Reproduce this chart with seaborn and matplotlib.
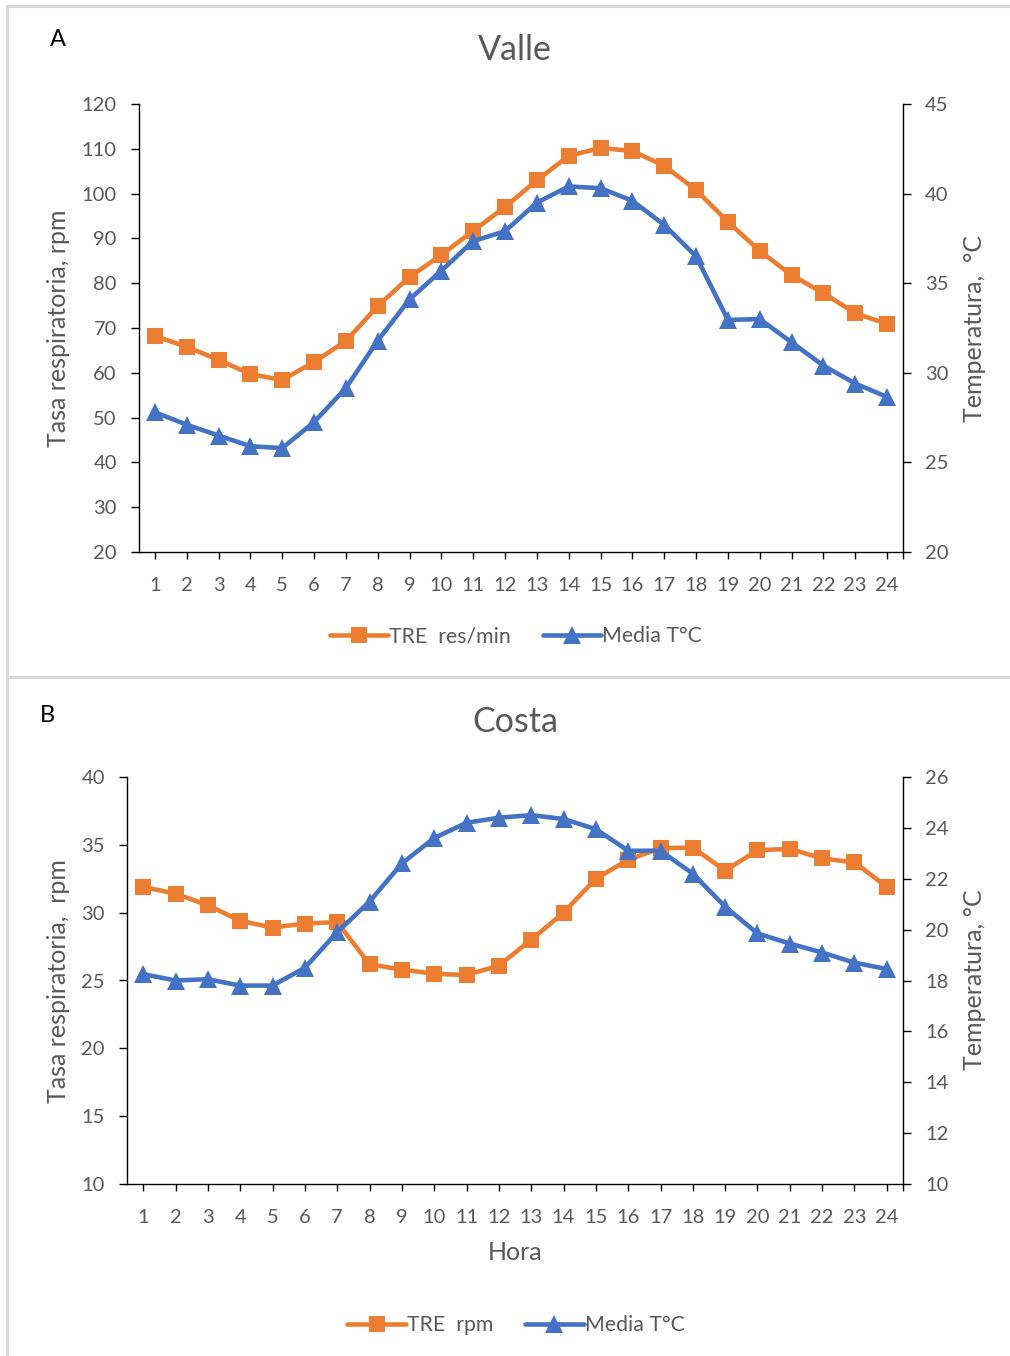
import numpy as np
import pandas as pd
import matplotlib
matplotlib.use("Agg")
import matplotlib.pyplot as plt
from matplotlib.patches import Rectangle
from matplotlib.lines import Line2D
import seaborn as sns

sns.set_theme(style="white")
plt.rcParams["font.family"] = ["Lato", "DejaVu Sans"]

# Hours of the day
hora = list(range(1, 25))

# Valle: respiratory rate (res/min) and mean temperature (°C)
tre_valle = [68.2, 65.8, 62.9, 59.7, 58.4, 62.4, 67.1, 74.9, 81.4, 86.3, 91.7, 97.0,
             103.0, 108.4, 110.2, 109.5, 106.2, 100.8, 93.7, 87.2, 81.8, 77.8, 73.3, 70.9]
temp_valle = [27.8, 27.1, 26.5, 25.9, 25.8, 27.25, 29.15, 31.8, 34.1, 35.7, 37.35, 37.9,
              39.5, 40.4, 40.3, 39.6, 38.25, 36.5, 32.95, 33.0, 31.7, 30.4, 29.4, 28.65]

# Costa: respiratory rate (rpm) and mean temperature (°C)
tre_costa = [31.9, 31.4, 30.55, 29.4, 28.9, 29.2, 29.3, 26.2, 25.8, 25.5, 25.4, 26.1,
             28.0, 30.0, 32.5, 33.9, 34.75, 34.8, 33.1, 34.6, 34.7, 34.0, 33.7, 31.9]
temp_costa = [18.25, 18.0, 18.05, 17.8, 17.8, 18.5, 19.9, 21.1, 22.6, 23.6, 24.2, 24.4,
              24.5, 24.35, 23.95, 23.1, 23.1, 22.2, 20.9, 19.85, 19.45, 19.1, 18.7, 18.45]

ORANGE = "#ED7D31"
BLUE = "#4472C4"
GRAY = "#595959"

W, H = 1010, 1356
fig = plt.figure(figsize=(W / 100, H / 100), dpi=100)


def px_axes(left, top, right, bottom):
    return fig.add_axes([left / W, 1 - bottom / H, (right - left) / W, (bottom - top) / H])


def fx(x):
    return x / W


def fy(y):
    return 1 - y / H


# chart-area frames
for (x0, y0, x1, y1) in [(7, 6, 1012, 677), (7, 677, 1012, 1360)]:
    fig.patches.append(Rectangle((fx(x0), fy(y1)), fx(x1) - fx(x0), fy(y0) - fy(y1),
                                 transform=fig.transFigure, fill=False,
                                 edgecolor="#d9d9d9", linewidth=2.2, zorder=0))


def style_axes(ax, ax2, ylim_l, yticks_l, ylim_r, yticks_r):
    ax.set_xlim(0.5, 24.5)
    ax.set_xticks(hora)
    ax.set_xticklabels([str(h) for h in hora])
    ax.set_xticks([24.5], minor=True)
    ax.set_ylim(*ylim_l)
    ax.set_yticks(yticks_l)
    ax2.set_ylim(*ylim_r)
    ax2.set_yticks(yticks_r)
    for a in (ax, ax2):
        a.set_xlabel("")
        a.set_ylabel("")
        for s in a.spines.values():
            s.set_visible(False)
        a.grid(False)
        a.set_facecolor("none")
    ax.spines["left"].set_visible(True)
    ax.spines["bottom"].set_visible(True)
    ax2.spines["right"].set_visible(True)
    for s in (ax.spines["left"], ax.spines["bottom"], ax2.spines["right"]):
        s.set_color("black")
        s.set_linewidth(1.0)
    ax.tick_params(axis="x", which="both", direction="out", length=5, width=1,
                   color="black", labelsize=14.5, labelcolor=GRAY, pad=13, bottom=True)
    ax.tick_params(axis="y", direction="out", length=6, width=1, color="black",
                   labelsize=14.5, labelcolor=GRAY, pad=10, left=True)
    ax2.tick_params(axis="y", direction="out", length=6, width=1, color="black",
                    labelsize=14.5, labelcolor=GRAY, pad=10, right=True)


def draw(ax, ax2, tre, temp):
    df = pd.DataFrame({"hora": hora, "tre": tre, "temp": temp})
    sns.lineplot(data=df, x="hora", y="tre", ax=ax, color=ORANGE, linewidth=3.3,
                 marker="s", markersize=11.5, markeredgewidth=0, zorder=3)
    sns.lineplot(data=df, x="hora", y="temp", ax=ax2, color=BLUE, linewidth=3.3,
                 marker="^", markersize=12.5, markeredgewidth=0, zorder=3)


LABEL_FS = 18

# ---------------- Panel A: Valle ----------------
axA = px_axes(139, 104, 903, 552)
axA2 = axA.twinx()
draw(axA, axA2, tre_valle, temp_valle)
style_axes(axA, axA2, (20, 120), range(20, 121, 10), (20, 45), range(20, 46, 5))

fig.text(fx(515), fy(50), "Valle", ha="center", va="center", fontsize=24.5, color=GRAY)
fig.text(fx(58), fy(40), "A", ha="center", va="center", fontsize=17, color="black")
fig.text(fx(58), fy(328), "Tasa respiratoria, rpm", rotation=90, ha="center",
         va="center", fontsize=LABEL_FS, color=GRAY)
fig.text(fx(975), fy(329), "Temperatura,  °C", rotation=90, ha="center",
         va="center", fontsize=LABEL_FS, color=GRAY)

# ---------------- Panel B: Costa ----------------
axB = px_axes(127, 777, 903, 1184)
axB2 = axB.twinx()
draw(axB, axB2, tre_costa, temp_costa)
style_axes(axB, axB2, (10, 40), range(10, 41, 5), (10, 26), range(10, 27, 2))

fig.text(fx(515), fy(722), "Costa", ha="center", va="center", fontsize=24.5, color=GRAY)
fig.text(fx(47), fy(716), "B", ha="center", va="center", fontsize=17, color="black")
fig.text(fx(58), fy(981), "Tasa respiratoria,  rpm", rotation=90, ha="center",
         va="center", fontsize=LABEL_FS, color=GRAY)
fig.text(fx(975), fy(980), "Temperatura, °C", rotation=90, ha="center",
         va="center", fontsize=LABEL_FS, color=GRAY)
fig.text(fx(515), fy(1253), "Hora", ha="center", va="center", fontsize=LABEL_FS, color=GRAY)


# ---------------- Legends ----------------
def legend_handles():
    return [Line2D([], [], color=ORANGE, linewidth=3.3, marker="s", markersize=11.5,
                   markeredgewidth=0, solid_capstyle="round"),
            Line2D([], [], color=BLUE, linewidth=3.3, marker="^", markersize=12.5,
                   markeredgewidth=0, solid_capstyle="round")]


for labels, yc in [(["TRE  res/min", "Media T°C"], 636), (["TRE  rpm", "Media T°C"], 1325)]:
    leg = fig.legend(legend_handles(), labels, loc="center", bbox_to_anchor=(fx(516), fy(yc)),
                     ncol=2, frameon=False, fontsize=15.3, handlelength=2.75,
                     handletextpad=0.05, columnspacing=1.5, markerscale=1.0)
    for t in leg.get_texts():
        t.set_color(GRAY)

fig.savefig("out.png", dpi=100, facecolor="white")
